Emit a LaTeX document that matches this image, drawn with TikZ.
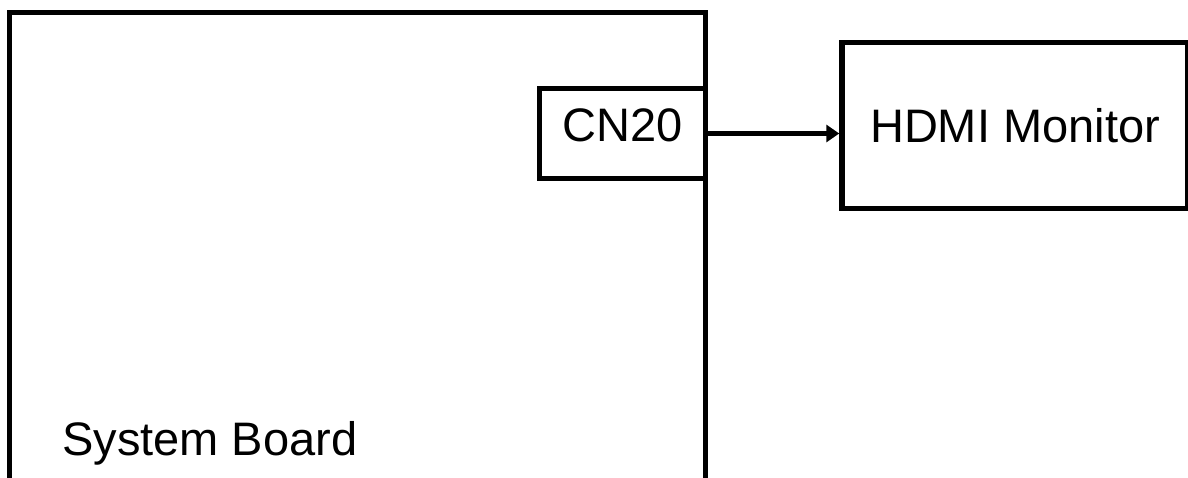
\documentclass[tikz,border=0pt]{standalone}
\usepackage{fontspec}
\setmainfont{Liberation Sans}
\usepackage{tikz}
\usetikzlibrary{arrows.meta, positioning}

\begin{document}
\begin{tikzpicture}[
        x=1pt, y=-1pt,
        box/.style={rectangle, draw=black, line width=5.5pt, inner sep=0pt, font=\fontsize{47}{56}\selectfont},
        lbl/.style={inner sep=0pt, font=\fontsize{47}{56}\selectfont},
        arrow/.style={-{Triangle[length=13pt, width=17pt]}, line width=4.5pt}
    ]
        \useasboundingbox (0,0) rectangle (1188,478);
        \clip (0,0) rectangle (1188,478);

        \node[box, minimum width=696, minimum height=580] (board) at (357.5, 302.5) {};
        \node[lbl, anchor=base west] (boardname) at (62, 455) {System Board};
        \node[box, minimum width=166, minimum height=90, text height=33pt, text depth=16pt] (cn20) at (622.5, 133.5) {CN20};
        \node[box, minimum width=346, minimum height=166] (hdmi) at (1015, 125.5) {HDMI Monitor};

        \draw[arrow] (cn20.east) -- (cn20.east -| hdmi.west);
    \end{tikzpicture}
\end{document}
